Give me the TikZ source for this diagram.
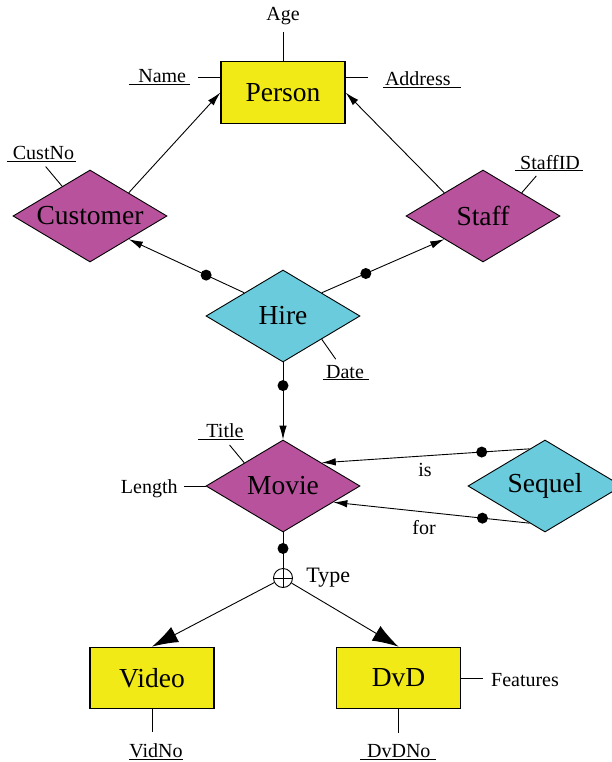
\documentclass[tikz,border=0pt]{standalone}
\usepackage{fontspec}
\setmainfont{Liberation Serif}
\usepackage{tikz}
\usetikzlibrary{shapes.geometric,arrows.meta,calc}
\definecolor{entyellow}{RGB}{242,234,22}
\definecolor{relpurple}{RGB}{185,82,157}
\definecolor{relcyan}{RGB}{106,203,220}

\begin{document}
\begin{tikzpicture}[x=1pt,y=-1pt,line width=0.9pt,
    entity/.style={draw,line width=1.2pt,fill=entyellow,minimum width=124pt,minimum height=61.5pt,inner sep=0pt,font=\fontsize{27.5}{33}\selectfont},
    rel/.style={diamond,draw,aspect=1.67,minimum width=154pt,minimum height=92pt,inner sep=0pt,font=\fontsize{27.5}{33}\selectfont},
    attr/.style={anchor=base,inner sep=2pt,font=\fontsize{20}{24}\selectfont},
    dot/.style={circle,fill,inner sep=0pt,minimum size=11pt},
    arr/.style={-{Latex[length=14pt,width=7.5pt]}},
    bigarr/.style={-{Latex[length=26pt,width=17pt]}}]
    \useasboundingbox (0,0) rectangle (611,762);

    \node[entity] (person) at (283,92.5) {Person};
    \node[rel,fill=relpurple] (customer) at (90,216) {Customer};
    \node[rel,fill=relpurple] (staff) at (483,216) {Staff};
    \node[rel,fill=relcyan] (hire) at (283,316) {Hire};
    \node[rel,fill=relpurple] (movie) at (283,486) {Movie};
    \node[rel,fill=relcyan] (sequel) at (545,486) {Sequel};
    \node[entity] (video) at (152,678) {Video};
    \node[entity] (dvd) at (398.5,678) {DvD};
    \node[circle,draw,fill=white,minimum size=19pt,inner sep=0pt] (type) at (283,578) {};

    \node[attr] (age) at (283,21) {Age};
    \node[attr] (name) at (159.7,82.6) {\underline{\hspace{9pt}Name\hspace{4pt}}};
    \node[attr] (address) at (421.8,85.6) {\underline{\hspace{2pt}Address\hspace{10pt}}};
    \node[attr] (custno) at (41.7,159.6) {\underline{\hspace{5.5pt}CustNo\hspace{2pt}}};
    \node[attr] (staffid) at (549.3,169) {\underline{\hspace{5pt}StaffID\hspace{3.5pt}}};
    \node[attr] (date) at (346,378) {\underline{\hspace{3.5pt}Date\hspace{5.5pt}}};
    \node[attr] (title) at (221,437.3) {\underline{\hspace{8pt}Title}};
    \node[attr] (length) at (149.3,493) {Length};
    \node[attr,font=\fontsize{22}{26}\selectfont] (typelbl) at (328.3,582.5) {Type};
    \node[attr] (features) at (525,686) {Features};
    \node[attr] (vidno) at (156,757.3) {\underline{VidNo}};
    \node[attr] (dvdno) at (398.3,757.3) {\underline{\hspace{7pt}DvDNo\hspace{6pt}}};
    \node[attr] (islbl) at (425,476.7) {is};
    \node[attr] (forlbl) at (424,534) {for};

    \draw[arr] (customer.north east) -- (person.west);
    \draw[arr] (staff.north west) -- (person.east);
    \draw[arr] (hire.north west) -- node[dot,pos=0.33]{} (customer.south east);
    \draw[arr] (hire.north east) -- node[dot,pos=0.36]{} (staff.south west);
    \draw[arr] (hire.south) -- node[dot,pos=0.3]{} (movie.north);
    \draw[arr] ($(sequel.north)!0.2!(sequel.west)$) -- node[dot,pos=0.23]{} (movie.north east);
    \draw[arr] ($(sequel.south)!0.2!(sequel.west)$) -- node[dot,pos=0.24]{} ($(movie.east)!0.35!(movie.south)$);
    \draw (movie.south) -- node[dot,pos=0.45]{} (type);
    \draw (type.north) -- (type.south) (type.west) -- (type.east);
    \draw[bigarr] (type) -- (video.north);
    \draw[bigarr] (type) -- (dvd.north);

    \draw[shorten >=4pt] (person.north) -- (age);
    \draw[shorten >=5pt] ([yshift=15.5pt]person.west) -- ([yshift=15.5pt]person.west -| name.east);
    \draw[shorten >=13pt] ([yshift=15.5pt]person.east) -- ([yshift=15.5pt]person.east -| address.west);
    \draw[shorten <=3pt] ([xshift=2pt]custno.south) -- ($(customer.west)!0.64!(customer.north)$);
    \draw[shorten <=3pt] ([xshift=-11pt]staffid.south) -- (staff.north east);
    \draw[shorten >=4pt] (hire.south east) -- ([xshift=-8pt]date.north);
    \draw[shorten >=4pt] (movie.north west) -- ([xshift=6pt]title.south);
    \draw[shorten >=3.5pt] (movie.west) -- (movie.west -| length.east);
    \draw[shorten >=6pt] (dvd.east) -- (dvd.east -| features.west);
    \draw[shorten >=8.5pt] (video.south) -- (video.south |- vidno.north);
    \draw[shorten >=8.5pt] (dvd.south) -- (dvd.south |- dvdno.north);
\end{tikzpicture}
\end{document}
